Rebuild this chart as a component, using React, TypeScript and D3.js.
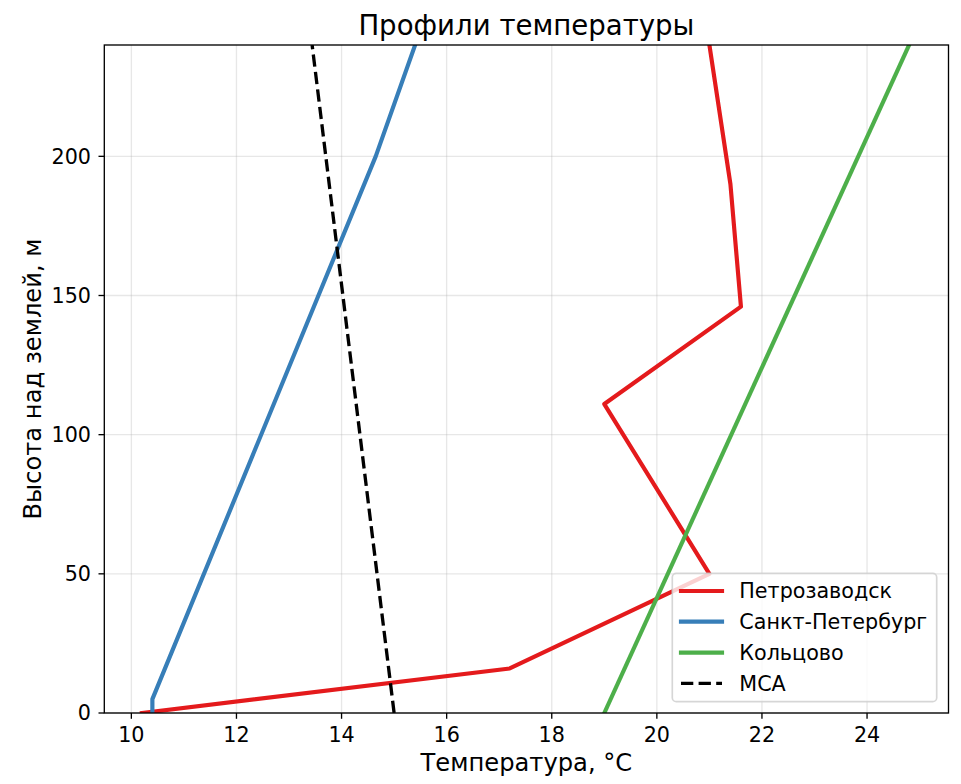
import React from "react";
import * as d3 from "d3";

// ---- data ----
const seriesNames = ["Петрозаводск", "Санкт-Петербург", "Кольцово", "МСА"];
const seriesColors = ["#e41a1c", "#377eb8", "#4daf4a", "#000000"];

const petroHeights = [0, 16, 50, 111, 146, 190, 240];
const petroTemps = [10.2, 17.2, 21.0, 19.0, 21.6, 21.4, 21.0];

const spbHeights = [0, 5, 200, 240];
const spbTemps = [10.4, 10.4, 14.65, 15.4];

const koltsovoHeights = [0, 240];
const koltsovoTemps = [19.0, 24.8];

const msaHeights = [0, 240];
const msaTemps = [15.0, 13.44];

const xTicks = [10, 12, 14, 16, 18, 20, 22, 24];
const yTicks = [0, 50, 100, 150, 200];

const title = "Профили температуры";
const xLabel = "Температура, °C";
const yLabel = "Высота над землей, м";

const xDomain = [9.485, 25.55];
const yDomain = [0, 240];

// ---- layout ----
const W = 961;
const H = 784;
const L = 104.3;
const R = 948.5;
const T = 45;
const B = 713;
const FONT = "'DejaVu Sans', sans-serif";

export default function App() {
  const x = d3.scaleLinear().domain(xDomain).range([L, R]);
  const y = d3.scaleLinear().domain(yDomain).range([B, T]);

  const mk = (temps: number[], hs: number[]) =>
    d3
      .line<number>()
      .x((_, i) => x(temps[i]))
      .y((_, i) => y(hs[i]))(temps) || "";

  const series = [
    { d: mk(petroTemps, petroHeights), w: 4.17, dash: undefined as string | undefined },
    { d: mk(spbTemps, spbHeights), w: 4.17, dash: undefined },
    { d: mk(koltsovoTemps, koltsovoHeights), w: 4.17, dash: undefined },
    { d: mk(msaTemps, msaHeights), w: 3.33, dash: "12.3 5.3" },
  ];

  const legX = 672.3;
  const legY = 573.3;
  const legW = 264.4;
  const legH = 128.4;
  const rowY = [591, 621.7, 652.7, 683.3];

  return (
    <svg
      width={W}
      height={H}
      style={{ position: "absolute", left: 0, top: 0, background: "#fff" }}
      fontFamily={FONT}
    >
      <rect x={0} y={0} width={W} height={H} fill="#fff" />
      <defs>
        <clipPath id="plotclip">
          <rect x={L} y={T} width={R - L} height={B - T} />
        </clipPath>
      </defs>
      {/* grid */}
      {xTicks.map((t) => (
        <line key={"gx" + t} x1={x(t)} x2={x(t)} y1={T} y2={B} stroke="#b0b0b0" strokeOpacity={0.3} strokeWidth={1.33} />
      ))}
      {yTicks.map((t) => (
        <line key={"gy" + t} x1={L} x2={R} y1={y(t)} y2={y(t)} stroke="#b0b0b0" strokeOpacity={0.3} strokeWidth={1.33} />
      ))}
      {/* lines */}
      <g clipPath="url(#plotclip)">
        {series.map((s, i) => (
          <path
            key={i}
            d={s.d}
            fill="none"
            stroke={seriesColors[i]}
            strokeWidth={s.w}
            strokeDasharray={s.dash}
            strokeLinejoin="round"
            strokeLinecap={s.dash ? "butt" : "square"}
          />
        ))}
      </g>
      {/* spines */}
      <rect x={L} y={T} width={R - L} height={B - T} fill="none" stroke="#000" strokeWidth={1.33} />
      {/* x ticks */}
      {xTicks.map((t) => (
        <g key={"xt" + t}>
          <line x1={x(t)} x2={x(t)} y1={B} y2={B + 5.8} stroke="#000" strokeWidth={1.33} />
          <text x={x(t)} y={741.8} fontSize={20.7} textAnchor="middle" fill="#000">
            {t}
          </text>
        </g>
      ))}
      {/* y ticks */}
      {yTicks.map((t) => (
        <g key={"yt" + t}>
          <line x1={L - 5.8} x2={L} y1={y(t)} y2={y(t)} stroke="#000" strokeWidth={1.33} />
          <text x={91} y={y(t)} dy="0.36em" fontSize={20.7} textAnchor="end" fill="#000">
            {t}
          </text>
        </g>
      ))}
      {/* labels */}
      <text x={(L + R) / 2} y={35} fontSize={27.6} textAnchor="middle" fill="#000">
        {title}
      </text>
      <text x={(L + R) / 2} y={771} fontSize={24.2} textAnchor="middle" fill="#000">
        {xLabel}
      </text>
      <text
        transform={`translate(40.5, ${(T + B) / 2}) rotate(-90)`}
        fontSize={24.2}
        textAnchor="middle"
        fill="#000"
      >
        {yLabel}
      </text>
      {/* legend */}
      <rect
        x={legX}
        y={legY}
        width={legW}
        height={legH}
        rx={4}
        ry={4}
        fill="#fff"
        fillOpacity={0.8}
        stroke="#cccccc"
        strokeOpacity={0.8}
        strokeWidth={1.67}
      />
      {seriesNames.map((n, i) => (
        <g key={"lg" + i}>
          <line
            x1={681}
            x2={722}
            y1={rowY[i]}
            y2={rowY[i]}
            stroke={seriesColors[i]}
            strokeWidth={series[i].w}
            strokeDasharray={series[i].dash}
            strokeLinecap={series[i].dash ? "butt" : "square"}
          />
          <text x={739.3} y={rowY[i]} dy="0.36em" fontSize={20.7} fill="#000">
            {n}
          </text>
        </g>
      ))}
    </svg>
  );
}
